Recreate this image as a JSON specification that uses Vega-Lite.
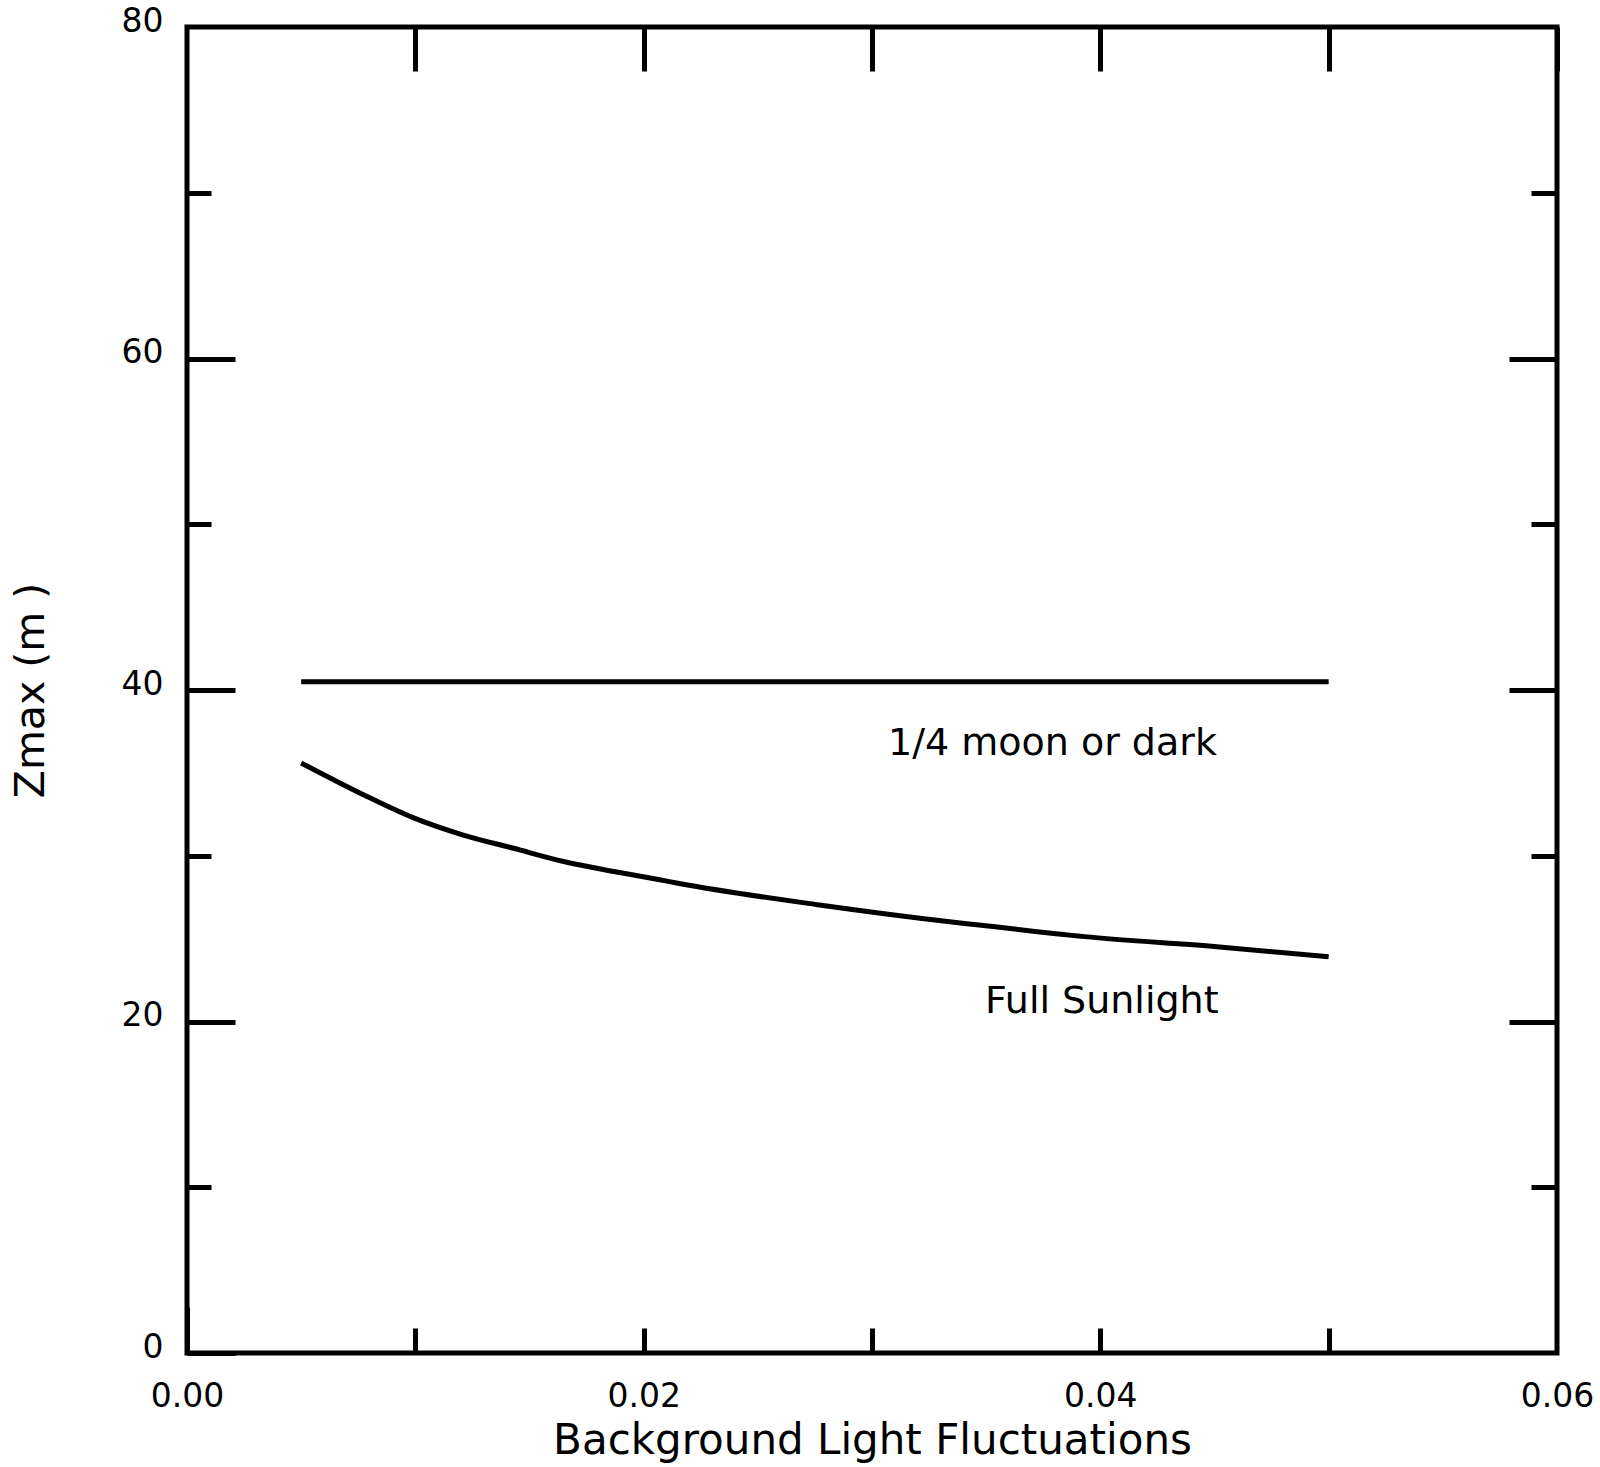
{
  "$schema": "https://vega.github.io/schema/vega-lite/v6.json",
  "width": 1370,
  "height": 1326,
  "autosize": {"type": "none"},
  "padding": {"left": 187, "top": 27, "right": 43, "bottom": 114},
  "background": "white",
  "config": {
    "view": {"stroke": "black", "strokeWidth": 5},
    "axis": {
      "domain": false,
      "grid": false,
      "tickColor": "black",
      "tickWidth": 5,
      "labelFont": "DejaVu Sans",
      "labelFontSize": 33,
      "labelColor": "black",
      "labelFlush": false,
      "labelOverlap": false,
      "titleFont": "DejaVu Sans",
      "titleColor": "black",
      "titleFontWeight": "normal"
    }
  },
  "datasets": {
    "curves": [
      {"series": "Full Sunlight", "x": 0.005, "y": 35.6},
      {"series": "Full Sunlight", "x": 0.0077, "y": 33.7},
      {"series": "Full Sunlight", "x": 0.0099, "y": 32.3},
      {"series": "Full Sunlight", "x": 0.0121, "y": 31.25},
      {"series": "Full Sunlight", "x": 0.0143, "y": 30.45},
      {"series": "Full Sunlight", "x": 0.0165, "y": 29.65},
      {"series": "Full Sunlight", "x": 0.0187, "y": 29.05},
      {"series": "Full Sunlight", "x": 0.0207, "y": 28.55},
      {"series": "Full Sunlight", "x": 0.0215, "y": 28.34},
      {"series": "Full Sunlight", "x": 0.0277, "y": 27.03},
      {"series": "Full Sunlight", "x": 0.0334, "y": 26.02},
      {"series": "Full Sunlight", "x": 0.0347, "y": 25.82},
      {"series": "Full Sunlight", "x": 0.0393, "y": 25.12},
      {"series": "Full Sunlight", "x": 0.0451, "y": 24.51},
      {"series": "Full Sunlight", "x": 0.05, "y": 23.9},
      {"series": "1/4 moon or dark", "x": 0.005, "y": 40.5},
      {"series": "1/4 moon or dark", "x": 0.05, "y": 40.5}
    ],
    "notes": [
      {"label": "1/4 moon or dark", "x": 0.0307, "y": 36.08},
      {"label": "Full Sunlight", "x": 0.03495, "y": 20.51}
    ]
  },
  "layer": [
    {
      "data": {"name": "curves"},
      "mark": {"type": "line", "color": "black", "strokeWidth": 5, "interpolate": "monotone"},
      "encoding": {
        "x": {"field": "x", "type": "quantitative", "scale": {"domain": [0, 0.06], "nice": false, "zero": false},
          "axis": {"orient": "bottom", "values": [0, 0.02, 0.04, 0.06], "format": ".2f", "ticks": false, "labelPadding": 27,
            "title": "Background Light Fluctuations", "titleFontSize": 42, "titleX": 685, "titleY": 67, "titleBaseline": "top", "titleAlign": "center"}},
        "y": {"field": "y", "type": "quantitative", "scale": {"domain": [0, 80], "nice": false, "zero": false},
          "axis": {"orient": "left", "values": [0, 20, 40, 60, 80], "ticks": false, "labelPadding": 24, "labelOffset": -6,
            "title": "Zmax (m )", "titleFontSize": 41, "titleAngle": 270, "titleX": -144, "titleY": 663, "titleBaseline": "alphabetic", "titleAlign": "center"}},
        "detail": {"field": "series", "type": "nominal"}
      }
    },
    {
      "data": {"name": "notes"},
      "mark": {"type": "text", "align": "left", "baseline": "alphabetic", "font": "DejaVu Sans", "fontSize": 38, "color": "black"},
      "encoding": {
        "x": {"field": "x", "type": "quantitative",
          "axis": {"orient": "bottom", "values": [0.01, 0.02, 0.03, 0.04, 0.05], "labels": false, "tickSize": -25, "title": null}},
        "y": {"field": "y", "type": "quantitative",
          "axis": {"orient": "left", "values": [0, 20, 40, 60], "labels": false, "tickSize": -48, "title": null}},
        "text": {"field": "label"}
      }
    },
    {
      "data": {"name": "curves"},
      "mark": {"type": "line", "opacity": 0},
      "encoding": {
        "x": {"field": "x", "type": "quantitative",
          "axis": {"orient": "top", "values": [0.01, 0.02, 0.03, 0.04, 0.05, 0.06], "labels": false, "tickSize": -44, "title": null}},
        "y": {"field": "y", "type": "quantitative",
          "axis": {"orient": "left", "values": [10, 30, 50, 70], "labels": false, "tickSize": -24, "title": null}},
        "detail": {"field": "series", "type": "nominal"}
      }
    },
    {
      "data": {"name": "curves"},
      "mark": {"type": "line", "opacity": 0},
      "encoding": {
        "x": {"field": "x", "type": "quantitative",
          "axis": {"orient": "bottom", "values": [0], "labels": false, "tickSize": -46, "title": null}},
        "y": {"field": "y", "type": "quantitative",
          "axis": {"orient": "right", "values": [20, 40, 60], "labels": false, "tickSize": -48, "title": null}},
        "detail": {"field": "series", "type": "nominal"}
      }
    },
    {
      "data": {"name": "curves"},
      "mark": {"type": "line", "opacity": 0},
      "encoding": {
        "x": {"field": "x", "type": "quantitative", "axis": null},
        "y": {"field": "y", "type": "quantitative",
          "axis": {"orient": "right", "values": [10, 30, 50, 70], "labels": false, "tickSize": -26, "title": null}},
        "detail": {"field": "series", "type": "nominal"}
      }
    }
  ],
  "resolve": {"axis": {"x": "independent", "y": "independent"}}
}
